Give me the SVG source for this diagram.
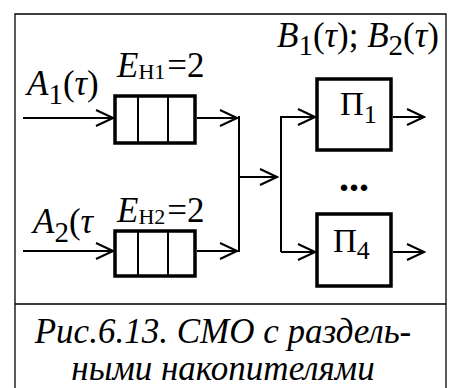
<svg xmlns="http://www.w3.org/2000/svg" width="465" height="388" viewBox="0 0 465 388" font-family="Liberation Serif, serif">
<style>
text,tspan{font-family:"Liberation Serif",serif !important}
.i{font-style:italic}
.frame{fill:none;stroke:#000;stroke-width:1.3}
.q{fill:#fff;stroke:#000;stroke-width:3.5}
.qd{stroke:#000;stroke-width:2}
.box{fill:#fff;stroke:#000;stroke-width:3.5}
.ln{fill:none;stroke:#000;stroke-width:2}
</style>
<defs>
<marker id="ah" markerUnits="userSpaceOnUse" markerWidth="20" markerHeight="20" refX="17" refY="8" orient="auto" viewBox="-1 -1 20 18">
<path d="M0,0 L17,8 L0,16" fill="none" stroke="#000" stroke-width="2"/>
</marker>
</defs>
<rect x="0" y="0" width="465" height="388" fill="#fff"/>
<g id="frame">
<path class="frame" d="M15,388 V14 H446 V388 M15,304 H446"/>
</g>
<g id="connectors">
<path class="ln" d="M23,118 H113" marker-end="url(#ah)"/>
<path class="ln" d="M23,251 H113" marker-end="url(#ah)"/>
<path class="ln" d="M197,118 H237" marker-end="url(#ah)"/>
<path class="ln" d="M197,251 H237" marker-end="url(#ah)"/>
<path class="ln" d="M239,116 V252"/>
<path class="ln" d="M239,177 H277" marker-end="url(#ah)"/>
<path class="ln" d="M281,252 V117 H315" marker-end="url(#ah)"/>
<path class="ln" d="M281,252 H315" marker-end="url(#ah)"/>
<path class="ln" d="M393,117 H424" marker-end="url(#ah)"/>
<path class="ln" d="M393,252 H424" marker-end="url(#ah)"/>
</g>
<g id="queue1">
<rect class="q" x="115" y="96" width="80" height="47"/>
<line class="qd" x1="138" y1="96" x2="138" y2="143"/>
<line class="qd" x1="168" y1="96" x2="168" y2="143"/>
</g>
<g id="queue2">
<rect class="q" x="115" y="231" width="80" height="45"/>
<line class="qd" x1="138" y1="231" x2="138" y2="276"/>
<line class="qd" x1="168" y1="231" x2="168" y2="276"/>
</g>
<g id="p1">
<rect class="box" x="317" y="79" width="74" height="71"/>
<text x="340" y="115" font-size="33">П<tspan dy="8" font-size="26">1</tspan></text>
</g>
<g id="p4">
<rect class="box" x="317" y="214" width="74" height="72"/>
<text x="333" y="252" font-size="33">П<tspan dy="7" font-size="26">4</tspan></text>
</g>
<g id="dots">
<text x="339" y="191" font-size="40" font-weight="bold">...</text>
</g>
<g id="labels" font-size="35">
<text x="277" y="47"><tspan class="i">B</tspan><tspan dy="8" font-size="29">1</tspan><tspan dy="-8">(</tspan><tspan class="i">τ</tspan>); <tspan class="i">B</tspan><tspan dy="8" font-size="29">2</tspan><tspan dy="-8">(</tspan><tspan class="i">τ</tspan>)</text>
<text x="27" y="95"><tspan class="i">A</tspan><tspan dy="9" font-size="29">1</tspan><tspan dy="-9">(</tspan><tspan class="i">τ</tspan>)</text>
<text x="117" y="77"><tspan class="i">E</tspan><tspan dy="2" font-size="22">H1</tspan><tspan dy="-2" dx="2">=2</tspan></text>
<text x="33" y="233"><tspan class="i">A</tspan><tspan dy="9" font-size="29">2</tspan><tspan dy="-9">(</tspan><tspan class="i">τ</tspan></text>
<text x="117" y="222"><tspan class="i">E</tspan><tspan dy="2" font-size="22">H2</tspan><tspan dy="-2" dx="2">=2</tspan></text>
</g>
<g id="caption" font-size="35">
<text class="i" x="223" y="343" text-anchor="middle">Рис.6.13. СМО с раздель-</text>
<text class="i" x="223" y="380" text-anchor="middle">ными накопителями</text>
</g>
</svg>
